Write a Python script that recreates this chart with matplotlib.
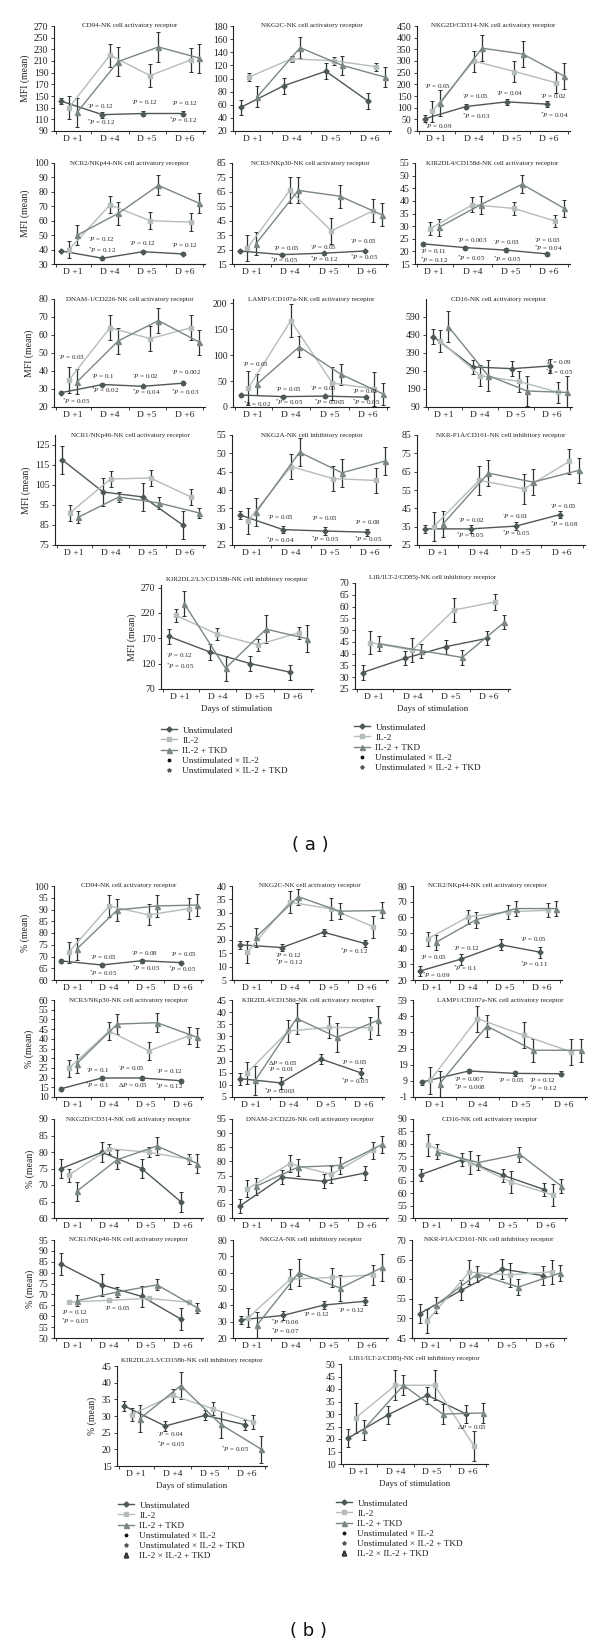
import matplotlib
matplotlib.use("Agg")
import matplotlib.pyplot as plt
from matplotlib.lines import Line2D
from matplotlib.ticker import FixedLocator, FormatStrFormatter
import numpy as np

plt.rcParams.update({
    'font.family': ['Liberation Serif', 'DejaVu Serif'],
    'mathtext.fontset': 'custom',
    'mathtext.rm': 'Liberation Serif',
    'mathtext.it': 'Liberation Serif:italic',
    'mathtext.bf': 'Liberation Serif:bold',
    'axes.unicode_minus': False,
})

# ---------------- data ----------------
DAYS = ["D +1", "D +4", "D +5", "D +6"]
SERIES = ["Unstimulated", "IL-2", "IL-2 + TKD"]
PAIRS = ["Unstimulated \u00d7 IL-2", "Unstimulated \u00d7 IL-2 + TKD", "IL-2 \u00d7 IL-2 + TKD"]

A_TITLES = [
    "CD94-NK cell activatory receptor", "NKG2C-NK cell activatory receptor",
    "NKG2D/CD314-NK cell activatory receptor", "NCR2/NKp44-NK cell activatory receptor",
    "NCR3/NKp30-NK cell activatory receptor", "KIR2DL4/CD158d-NK cell activatory receptor",
    "DNAM-1/CD226-NK cell activatory receptor", "LAMP1/CD107a-NK cell activatory receptor",
    "CD16-NK cell activatory receptor", "NCR1/NKp46-NK cell activatory receptor",
    "NKG2A-NK cell inhibitory receptor", "NKR-P1A/CD161-NK cell inhibitory receptor",
    "KIR2DL2/L3/CD158b-NK cell inhibitory receptor", "LIR/ILT-2/CD85j-NK cell inhibitory receptor",
]
A_UNSTIM = [
    [141, 118, 120, 120], [56, 89, 111, 66], [52, 105, 125, 115], [39, 34, 38.5, 37],
    [24, 21.5, 22.5, 24], [23, 21.5, 20.5, 19], [28, 32.5, 31.5, 33.2], [23, 20, 21, 19],
    [481, 313, 303, 318], [117.5, 101.5, 99, 85], [33.2, 29.2, 28.8, 28.5],
    [33.8, 33.8, 35.3, 41.6], [174, 143, 120, 103], [32, 38, 43, 46.5],
]
A_UNSTIM_ERR = [
    [5, 5, 5, 5], [12, 12, 12, 12], [15, 12, 12, 12], [1, 1, 1, 1], [1, 1, 1, 1],
    [0.8, 0.8, 0.8, 0.8], [1, 1, 1, 1], [3, 3, 3, 3], [40, 40, 40, 40], [7, 7, 7, 7],
    [1, 1, 1.2, 1], [2, 2, 2, 2], [15, 15, 15, 15], [3, 3, 3, 3],
]
A_IL2 = [
    [130, 220, 185, 212], [102, 130, 127, 118], [85, 300, 255, 207], [40, 71, 60, 59],
    [26, 66, 38, 52], [29, 38.5, 37, 32], [35, 64, 58, 64], [37, 166, 46, 35],
    [456, 264, 232, 171], [91, 108, 108.5, 99], [31.5, 46.4, 43.1, 42.6],
    [35, 60.3, 55.6, 70.6], [215, 178, 157, 181], [44.7, 41.5, 58.5, 62],
]
A_IL2_ERR = [
    [20, 20, 20, 20], [6, 5, 6, 6], [45, 45, 45, 45], [6, 6, 6, 6], [9, 9, 9, 8],
    [2.5, 3, 2.5, 2.5], [7, 7, 7, 7], [33, 32, 32, 33], [60, 60, 60, 60], [4, 4, 4, 4],
    [3.5, 3.5, 3.5, 3.3], [8, 8, 8, 7], [12, 12, 12, 12], [5, 5, 5, 3.5],
]
A_TKD = [
    [122, 209, 234, 215], [72, 147, 120, 102], [120, 355, 330, 235], [50, 65, 84.5, 72],
    [29, 66, 62, 49], [29.5, 38.5, 46.6, 37], [34, 56.7, 68, 56], [44, 116, 63, 25],
    [537, 265, 179, 171], [88.8, 99, 96, 91], [34, 50.3, 44.7, 47.9],
    [36.3, 64.2, 59.3, 65.7], [238, 111, 188, 169], [44.3, 41.3, 38.4, 53.3],
]
A_TKD_ERR = [
    [25, 25, 25, 25], [16, 16, 15, 15], [55, 55, 55, 55], [7, 8, 7, 7], [8, 9, 8, 8],
    [3.5, 3.5, 3.5, 3.5], [7, 7, 7, 7], [20, 20, 20, 22], [85, 85, 85, 90], [3, 2.5, 3, 2.5],
    [3.8, 3.8, 3.8, 3.7], [7, 7, 7, 7], [25, 25, 27, 27], [3, 3, 3, 3],
]
# y axis: (first tick, last tick, step, axis top)
A_YAXIS = [
    (90, 270, 20, 270), (20, 180, 20, 180), (0, 450, 50, 450), (30, 100, 10, 100),
    (15, 85, 10, 85), (15, 55, 5, 55), (20, 80, 10, 80), (0, 200, 50, 208),
    (90, 590, 100, 690), (75, 125, 10, 130), (25, 55, 5, 55), (25, 85, 10, 85),
    (70, 270, 50, 275), (25, 70, 5, 70),
]
# significance notes: (symbol, p value, x in day units, y in data units)
A_NOTES = [
    [("\u2022", "0.12", 1.38, 132), ("*", "0.12", 1.38, 105), ("\u2022", "0.12", 2.56, 138),
     ("\u2022", "0.12", 3.65, 137), ("*", "0.12", 3.58, 108)],
    [],
    [("\u2022", "0.05", 0.68, 191), ("*", "0.09", 0.68, 22), ("\u2022", "0.05", 1.7, 145),
     ("*", "0.03", 1.7, 62), ("\u2022", "0.04", 2.6, 160), ("\u2022", "0.02", 3.75, 148),
     ("*", "0.04", 3.75, 69)],
    [("\u2022", "0.12", 1.4, 46.5), ("*", "0.12", 1.4, 39.5), ("\u2022", "0.12", 2.5, 44),
     ("\u2022", "0.12", 3.65, 42.3)],
    [("\u2022", "0.05", 1.57, 25.3), ("*", "0.05", 1.48, 17.5), ("\u2022", "0.05", 2.52, 26),
     ("*", "0.12", 2.52, 18.4), ("\u2022", "0.05", 3.57, 30), ("*", "0.05", 3.57, 19.6)],
    [("\u2022", "0.11", 0.63, 19.7), ("*", "0.12", 0.63, 16.4), ("\u2022", "0.003", 1.6, 24.3),
     ("*", "0.05", 1.6, 17.4), ("\u2022", "0.03", 2.53, 23.3), ("*", "0.05", 2.53, 16.7),
     ("\u2022", "0.03", 3.6, 24.3), ("*", "0.04", 3.6, 21.3)],
    [("\u2022", "0.03", 0.62, 47), ("*", "0.05", 0.72, 23), ("\u2022", "0.1", 1.48, 36.8),
     ("*", "0.02", 1.48, 29), ("\u2022", "0.02", 2.6, 36.8), ("*", "0.04", 2.6, 27.9),
     ("\u2022", "0.002", 3.65, 38.7), ("*", "0.03", 3.65, 28.4)],
    [("\u2022", "0.05", 0.74, 81), ("*", "0.02", 0.75, 5), ("\u2022", "0.05", 1.6, 33),
     ("*", "0.05", 1.6, 8), ("\u2022", "0.05", 2.5, 34), ("*", "0.005", 2.6, 8),
     ("\u2022", "0.01", 3.6, 28.5), ("*", "0.05", 3.6, 8)],
    [("\u2022", "0.09", 3.8, 335), ("*", "0.05", 3.8, 284)],
    [],
    [("\u2022", "0.05", 1.4, 32.4), ("*", "0.04", 1.36, 26.3), ("\u2022", "0.05", 2.5, 32.1),
     ("*", "0.05", 2.5, 26.5), ("\u2022", "0.08", 3.6, 31), ("*", "0.05", 3.6, 26.5)],
    [("\u2022", "0.02", 1.5, 38), ("*", "0.05", 1.45, 30.2), ("\u2022", "0.01", 2.55, 40.3),
     ("*", "0.05", 2.55, 31.1), ("\u2022", "0.05", 3.7, 45.6), ("*", "0.08", 3.7, 36.2)],
    [("\u2022", "0.12", 0.64, 134.7), ("*", "0.05", 0.64, 114.7)],
    [],
]

B_TITLES = [
    "CD94-NK cell activatory receptor", "NKG2C-NK cell activatory receptor",
    "NCR2/NKp44-NK cell activatory receptor", "NCR3/NKp30-NK cell activatory receptor",
    "KIR2DL4/CD158d-NK cell activatory receptor", "LAMP1/CD107a-NK cell activatory receptor",
    "NKG2D/CD314-NK cell activatory receptor", "DNAM-2/CD226-NK cell activatory receptor",
    "CD16-NK cell activatory receptor", "NCR1/NKp46-NK cell activatory receptor",
    "NKG2A-NK cell inhibitory receptor", "NKR-P1A/CD161-NK cell inhibitory receptor",
    "KIR2DL2/L3/CD158b-NK cell inhibitory receptor", "LIR1/ILT-2/CD85j-NK cell inhibitory receptor",
]
B_UNSTIM = [
    [68.1, 66.4, 68.2, 67.4], [18.1, 17.1, 22.8, 18.6], [25.8, 33.3, 42.5, 37.8],
    [14.3, 19.8, 19.8, 18.4], [12.6, 10.8, 20.6, 14.9], [8.2, 15.1, 13.6, 13.4],
    [75, 79.9, 75, 64.9], [64.2, 74.4, 73, 75.9], [67.5, 73.6, 67.2, 61.5],
    [83.9, 74.4, 69.1, 58.7], [31.1, 33.8, 40.2, 42.5], [51.2, 57.2, 62.6, 60.9],
    [33, 27, 30.2, 27.4], [20.4, 29.7, 37.5, 30],
]
B_UNSTIM_ERR = [
    [0.8, 0.8, 0.8, 0.8], [1.5, 1.3, 1.3, 1.3], [3, 3.5, 3.5, 3.5], [1, 1, 1, 1],
    [2.5, 2.5, 2, 2], [1.5, 1.5, 1.5, 1.5], [3, 3, 3, 3], [2.5, 2.5, 2.5, 2.5],
    [2.5, 2.5, 2.5, 2.5], [5, 5, 5, 5], [2.5, 2.5, 2.5, 2.5], [2.5, 2.5, 2.5, 2.5],
    [1.5, 1.5, 1.5, 1.5], [3.5, 3.5, 3.5, 3.5],
]
B_IL2 = [
    [71.8, 91.5, 87.7, 90.4], [15.4, 34, 31.5, 24.8], [46.3, 60.3, 63.5, 64.5],
    [24.7, 44, 33.8, 41.6], [14.9, 32.2, 33.7, 33.6], [9.3, 47.5, 37.1, 27],
    [73, 81, 79.9, 77.8], [70.3, 79.2, 75.4, 84], [79.4, 72.4, 64.5, 59.4],
    [66.5, 67.3, 68.2, 66.4], [32.5, 56, 57.1, 58.7], [49.4, 61.8, 61.1, 61.9],
    [30.4, 36.2, 32.2, 28.2], [28.4, 41.5, 41.5, 17.1],
]
B_IL2_ERR = [
    [4.5, 4.5, 4.5, 4.5], [4, 4, 4, 4], [4.5, 4.5, 4.5, 4.5], [4.5, 4.5, 4.5, 4.5],
    [4.5, 4.5, 4.5, 4.5], [8.5, 8, 8, 8], [2, 1.5, 1.5, 1.5], [3, 3, 3, 3],
    [4.5, 4.5, 4.5, 4.5], [0.6, 0.6, 0.6, 0.6], [6, 6, 6, 6], [3, 3, 3, 3],
    [2, 2, 2, 2], [6, 6, 6, 6],
]
B_TKD = [
    [73.2, 89.8, 91.5, 91.9], [20.9, 36, 30.6, 30.9], [44, 58.5, 65.6, 65.6],
    [27.2, 47.6, 48.3, 40.7], [11.9, 37.4, 29.6, 36.7], [7.2, 42.9, 27.9, 27.9],
    [68.1, 77.7, 81.8, 76.5], [71.2, 78, 78.6, 86], [76.7, 72.4, 75.8, 62.9],
    [67.1, 71.1, 74.4, 63.8], [27.7, 60.1, 50.6, 63.2], [53.4, 61.3, 58, 61.6],
    [29.2, 39.1, 27.5, 20], [23.7, 41.5, 30, 30.4],
]
B_TKD_ERR = [
    [4.5, 4.5, 4.5, 4.5], [3.5, 3, 3, 3], [5, 5, 5, 5], [5, 5, 5, 5], [6, 6.5, 6, 6],
    [8, 7, 7, 7], [2.8, 2.8, 2.8, 2.8], [3, 3, 3, 3], [3, 3, 3, 3], [2.5, 2.5, 2.5, 2.5],
    [8, 8, 8, 8], [2, 2, 2, 2], [4, 4, 4, 4], [4, 4, 4, 4],
]
B_YAXIS = [
    (60, 100, 5, 100), (5, 40, 5, 40), (20, 80, 10, 80), (10, 60, 5, 60), (5, 45, 5, 45),
    (-1, 59, 10, 59), (60, 90, 5, 90), (60, 95, 5, 95), (50, 90, 5, 90), (50, 95, 5, 95),
    (20, 80, 10, 80), (45, 70, 5, 70), (15, 45, 5, 45), (10, 50, 5, 50),
]
B_NOTES = [
    [("\u2022", "0.05", 1.48, 69.2), ("*", "0.05", 1.44, 62.8), ("\u2022", "0.08", 2.58, 70.9),
     ("*", "0.05", 2.63, 65), ("\u2022", "0.05", 3.65, 70.6), ("*", "0.05", 3.6, 64.5)],
    [("\u2022", "0.12", 1.62, 14), ("*", "0.12", 1.62, 11.5), ("*", "0.12", 3.3, 15.6)],
    [("\u2022", "0.05", 0.7, 33.9), ("*", "0.09", 0.75, 22.8), ("\u2022", "0.12", 1.6, 39.9),
     ("*", "0.1", 1.6, 27.5), ("\u2022", "0.05", 3.4, 45.7), ("*", "0.11", 3.4, 30)],
    [("\u2022", "0.1", 1.36, 23.4), ("*", "0.1", 1.34, 16), ("\u2022", "0.05", 2.25, 24.3),
     ("\u0394", "0.05", 2.23, 16.4), ("\u2022", "0.12", 3.28, 22.9), ("*", "0.12", 3.25, 15.5)],
    [("\u0394", "0.05", 1.46, 19), ("\u2022", "0.01", 1.46, 16), ("*", "0.003", 1.34, 7.5),
     ("\u2022", "0.05", 3.4, 19), ("*", "0.05", 3.4, 11.6)],
    [("\u2022", "0.007", 1.46, 9.3), ("*", "0.008", 1.46, 5.2), ("\u2022", "0.05", 2.47, 8.9),
     ("\u2022", "0.12", 3.2, 8.9), ("*", "0.12", 3.2, 4.2)],
    [], [], [],
    [("\u2022", "0.12", 0.7, 61.5), ("*", "0.05", 0.7, 57.7), ("\u2022", "0.05", 1.85, 63.5)],
    [("*", "0.06", 1.48, 29.7), ("*", "0.07", 1.48, 24), ("\u2022", "0.12", 2.33, 34.2),
     ("\u2022", "0.12", 3.25, 36.8)],
    [],
    [("\u2022", "0.04", 1.57, 24.2), ("*", "0.05", 1.57, 21.5), ("*", "0.05", 3.3, 19.9)],
    [("\u0394", "0.05", 3.7, 24.7)],
]

# ---------------- layout / style ----------------
W, H = 600, 1646
A_RECTS = [
    (54, 26, 205, 131), (233, 26, 391, 131), (417, 26, 570, 131),
    (54, 163, 205, 264), (232, 163, 388, 264), (415, 163, 570, 264),
    (54, 299, 205, 407), (233, 299, 389, 407), (426, 299, 572, 407),
    (55, 435, 205, 545), (232, 435, 391, 545), (417, 435, 585, 545),
    (161, 585, 313, 689), (355, 583, 510, 689),
]
B_RECTS = [
    (54, 886, 203, 980), (232, 886, 388, 980), (413, 886, 562, 980),
    (54, 1000, 203, 1097), (232, 1000, 384, 1097), (413, 1000, 587, 1097),
    (54, 1119, 203, 1218), (232, 1119, 388, 1218), (413, 1119, 567, 1218),
    (54, 1240, 203, 1338), (233, 1240, 388, 1338), (412, 1240, 566, 1338),
    (117, 1366, 267, 1466), (341, 1364, 488, 1464),
]
C_UN, C_IL, C_TK = '#4e5955', '#b4bdb9', '#7a8782'
ECOL = '#2e3331'
OFFSETS = [[-0.3, -0.2, -0.12, -0.05], [-0.1, 0.0, 0.08, 0.17], [0.12, 0.22, 0.3, 0.4]]
STYLES = [(C_UN, 'D', 2.6), (C_IL, 's', 3.4), (C_TK, '^', 3.6)]
SYM = {"\u2022": r"$^{\bullet}P$", "*": r"$^{*}P$", "\u0394": r"$\Delta P$"}

fig = plt.figure(figsize=(W / 100, H / 100), dpi=100)
fig.patch.set_facecolor('white')


def make_ax(rect):
    l, t, r, b = rect
    return fig.add_axes([l / W, 1 - b / H, (r - l) / W, (b - t) / H])


def draw_panel(ax, title, series, yaxis, notes, ylabel=None, xlabel=None, title_above=False):
    lo, hi, step, top = yaxis
    days = np.arange(1, len(DAYS) + 1)
    for (vals, errs), off, (col, mk, ms) in zip(series, OFFSETS, STYLES):
        x = days + np.array(off)
        ax.errorbar(x, vals, yerr=errs, fmt='none', ecolor=ECOL, elinewidth=0.9,
                    capsize=1.3, capthick=0.7, zorder=2)
        ax.plot(x, vals, color=col, lw=1.0, marker=mk, ms=ms, mfc=col, mec=col, zorder=3)
    ax.set_xlim(0.5, 4.55)
    ax.set_ylim(lo, top)
    ax.set_yticks(np.arange(lo, hi + step / 2, step))
    ax.yaxis.set_major_formatter(FormatStrFormatter('%g'))
    ax.set_xticks(days)
    ax.set_xticklabels(DAYS)
    ax.xaxis.set_minor_locator(FixedLocator([0.55, 1.5, 2.5, 3.5, 4.5]))
    for s in ('top', 'right'):
        ax.spines[s].set_visible(False)
    for s in ('left', 'bottom'):
        ax.spines[s].set_linewidth(0.8)
        ax.spines[s].set_color('#222222')
    ax.tick_params(axis='y', direction='out', length=2.5, width=0.6, labelsize=7, pad=1.5,
                   colors='#222222')
    ax.tick_params(axis='x', which='major', length=0, labelsize=6.8, pad=3, colors='#222222')
    ax.tick_params(axis='x', which='minor', direction='out', length=2.2, width=0.6,
                   colors='#222222')
    if title_above:
        ax.text(0.5, 1.03, title, transform=ax.transAxes, ha='center', va='bottom',
                fontsize=5, color='#222222')
    else:
        ax.text(0.5, 1.0, title, transform=ax.transAxes, ha='center', va='center',
                fontsize=5, color='#222222')
    for sym, p, x, y in notes:
        ax.text(x, y, SYM[sym] + " = " + p, fontsize=5, ha='left', va='center',
                color='#222222', zorder=4)
    if ylabel:
        ax.set_ylabel(ylabel, fontsize=7, labelpad=3, color='#222222')
    if xlabel:
        ax.set_xlabel(xlabel, fontsize=6.5, labelpad=3, color='#222222')


def draw_block(rects, titles, un, une, il, ile, tk, tke, yaxes, notes, ylab):
    for i, rect in enumerate(rects):
        ax = make_ax(rect)
        series = [(un[i], une[i]), (il[i], ile[i]), (tk[i], tke[i])]
        last_row = i >= 12
        draw_panel(ax, titles[i], series, yaxes[i], notes[i],
                   ylabel=ylab if (i % 3 == 0 and i < 12) or i == 12 else None,
                   xlabel="Days of stimulation" if last_row else None,
                   title_above=last_row)


draw_block(A_RECTS, A_TITLES, A_UNSTIM, A_UNSTIM_ERR, A_IL2, A_IL2_ERR, A_TKD, A_TKD_ERR,
           A_YAXIS, A_NOTES, "MFI (mean)")
draw_block(B_RECTS, B_TITLES, B_UNSTIM, B_UNSTIM_ERR, B_IL2, B_IL2_ERR, B_TKD, B_TKD_ERR,
           B_YAXIS, B_NOTES, "% (mean)")

# legends
h_series = [Line2D([], [], color=c, marker=m, ms=ms, mfc=c, mec=c, lw=1.0) for c, m, ms in STYLES]
h_pairs = [Line2D([], [], ls='none', marker='.', ms=3.5, color='#111111'),
           Line2D([], [], ls='none', marker='*', ms=2.8, color='#555555'),
           Line2D([], [], ls='none', marker=r'$\Delta$', ms=3.4, color='#333333')]


def add_legend(n_pairs, x_px, top_px):
    fig.legend(h_series + h_pairs[:n_pairs], SERIES + PAIRS[:n_pairs], loc='upper left',
               bbox_to_anchor=(x_px / W, 1 - top_px / H), bbox_transform=fig.transFigure,
               frameon=False, borderaxespad=0, borderpad=0, labelspacing=0.18,
               handlelength=1.7, handletextpad=0.6, fontsize=6.7, labelcolor='#222222')


add_legend(2, 161, 726)
add_legend(2, 354, 723)
add_legend(3, 118, 1501)
add_legend(3, 336, 1499)

fig.text(310 / W, 1 - 845 / H, "( a )", ha='center', va='center', fontsize=13,
         family='DejaVu Sans', color='#111111')
fig.text(308 / W, 1 - 1631 / H, "( b )", ha='center', va='center', fontsize=13,
         family='DejaVu Sans', color='#111111')

fig.savefig("out.png", dpi=100, facecolor='white')
